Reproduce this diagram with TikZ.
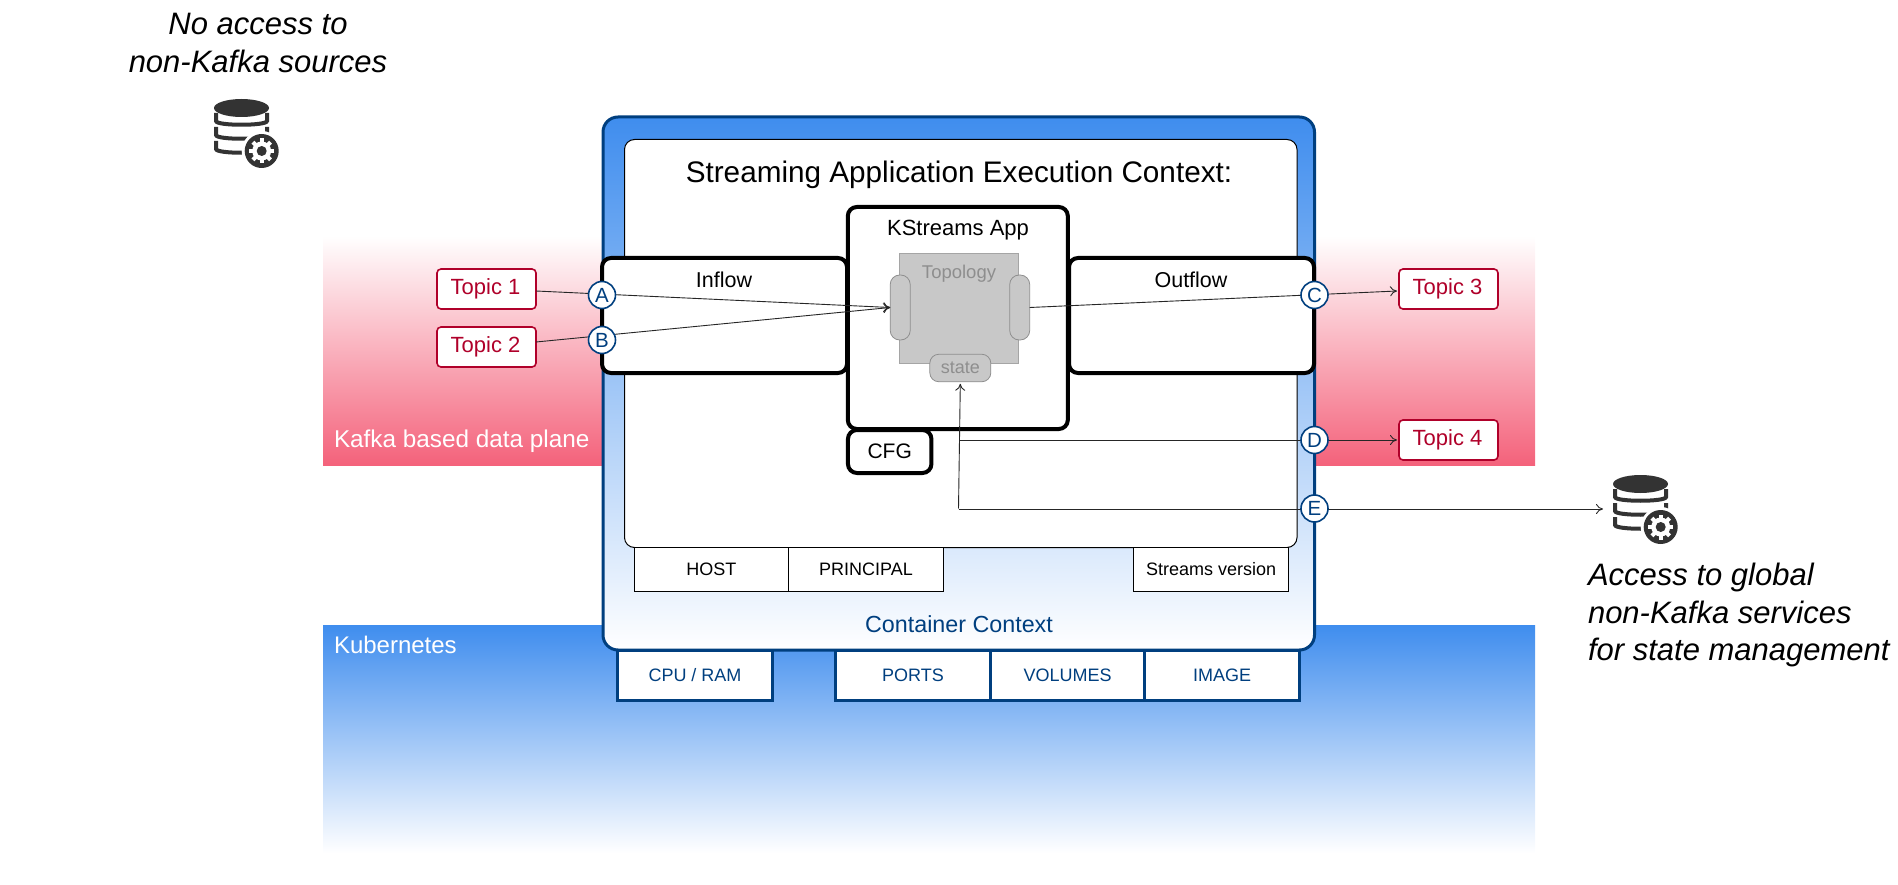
\documentclass[tikz,border=0pt]{standalone}
\usepackage{fontspec}
\setmainfont{Liberation Sans}
\usetikzlibrary{arrows.meta}
\definecolor{navy}{HTML}{003F7F}
\definecolor{skyb}{HTML}{3F8DEE}
\definecolor{kred}{HTML}{B0002A}
\definecolor{kpink}{HTML}{F4627B}
\definecolor{dbdark}{HTML}{333333}
\definecolor{greyf}{HTML}{C8C8C8}
\definecolor{greyl}{HTML}{8E8E8E}
\newcommand{\fs}[2]{\fontsize{#1}{#2}\selectfont}
\tikzset{
  every node/.style={inner sep=0pt,outer sep=0pt,align=center},
  band/.style={minimum width=1212pt,minimum height=#1},
  heavy/.style={draw=black,line width=4pt,fill=white,rounded corners=9pt},
  thinbox/.style={draw=black,line width=1pt,fill=white,minimum width=#1,minimum height=44pt,font=\fs{18}{20}},
  bluebox/.style={draw=navy,line width=3pt,fill=white,text=navy,minimum width=#1,minimum height=50pt,font=\fs{18}{20}},
  topic/.style={draw=kred,line width=1.6pt,fill=white,text=kred,rounded corners=4pt,minimum width=99pt,minimum height=40pt,font=\fs{22}{24}},
  pill/.style={draw=greyl,line width=.8pt,fill=greyf,rounded corners=9.5pt,minimum width=20pt,minimum height=65pt},
  port/.style={circle,draw=navy,line width=1.6pt,fill=white,text=navy,minimum size=27pt,font=\fs{20.5}{22}},
  conn/.style={draw=black!85,line width=.9pt,-{To[length=7pt,width=10pt]}},
  note/.style={font=\itshape\fs{31}{37.5}},
  pics/dbicon/.style={code={
    \fill[dbdark] (27.5,9) ellipse [x radius=27.5pt,y radius=9pt];
    \foreach \yy in {14,28,42}{
      \draw[dbdark,line width=4pt] (2,\yy) -- (2,\yy+8) .. controls (2,\yy+13) and (53,\yy+13) .. (53,\yy+8) -- (53,\yy);
    }
    \fill[white] (47.7,52) circle [radius=20pt];
    \fill[dbdark] (47.7,52) circle [radius=17pt];
    \foreach \an in {0,45,...,315}{
      \draw[white,line width=4pt] (47.7,52) -- ++(\an:12.5pt);
    }
    \fill[white] (47.7,52) circle [radius=9.5pt];
    \fill[dbdark] (47.7,52) circle [radius=5pt];
  }}
}
\begin{document}
\begin{tikzpicture}[x=1pt,y=-1pt]
\useasboundingbox (0,0) rectangle (1898,885);
% bands
\node[band=229pt,top color=white,bottom color=kpink] (kafka) at (929,350.5) {};
\node[band=228pt,top color=skyb,bottom color=white] (kube) at (929,739) {};
\node[anchor=west,text=white,font=\fs{24.3}{26}] (kafkal) at (334,441.5) {Kafka based data plane};
\node[anchor=west,text=white,font=\fs{24}{26}] (kubel) at (334,645) {Kubernetes};
% resources under the container
\node[bluebox=155.5pt] (cpu) at (695,675) {CPU / RAM};
\node[bluebox=155pt] (ports) at (913,675) {PORTS};
\node[bluebox=154pt] (volumes) at (1067.6,675) {VOLUMES};
\node[bluebox=155pt] (image) at (1222.2,675) {IMAGE};
% container
\node[draw=navy,line width=3pt,rounded corners=15pt,top color=skyb,bottom color=white,minimum width=711.5pt,minimum height=533pt] (container) at (958.75,383.5) {};
\node[draw=black,line width=1pt,fill=white,rounded corners=10pt,minimum width=672.5pt,minimum height=408pt] (exec) at (960.75,343.5) {};
\node[font=\fs{29.7}{32}] (title) at (959,175) {Streaming Application Execution Context:};
\node[text=navy,font=\fs{23.3}{26}] (cctx) at (959,624) {Container Context};
\node[thinbox=154pt] (host) at (711.4,569) {HOST};
\node[thinbox=155pt] (principal) at (866,569) {PRINCIPAL};
\node[thinbox=155pt] (version) at (1211.2,569) {Streams version};
% app boxes
\node[heavy,minimum width=245pt,minimum height=115pt] (inflow) at (724.5,315.5) {};
\node[font=\fs{21.5}{24}] (inflowl) at (724,280) {Inflow};
\node[heavy,minimum width=245pt,minimum height=115pt] (outflow) at (1191.5,315.5) {};
\node[font=\fs{21.5}{24}] (outflowl) at (1191,280) {Outflow};
\node[heavy,minimum width=220pt,minimum height=222pt] (app) at (957.8,318) {};
\node[font=\fs{22}{24}] (appl) at (958,230) {KStreams App};
\node[heavy,font=\fs{21}{24},minimum width=83.5pt,minimum height=43pt] (cfg) at (889.7,451.5) {CFG};
\node[draw=greyl!80,line width=.8pt,fill=greyf,minimum width=119pt,minimum height=110pt] (topo) at (959,308) {};
\node[text=greyl,font=\fs{18.5}{20}] (topol) at (959,274) {Topology};
\node[pill] (lp) at (900.2,307.5) {};
\node[pill] (rp) at (1019.7,307.5) {};
\node[draw=greyl,line width=.8pt,fill=greyf,text=greyl,rounded corners=9pt,minimum width=61pt,minimum height=27.5pt,font=\fs{18}{20}] (state) at (960.3,368) {\raisebox{-1.5pt}{state}};
% topics
\node[topic] (t1) at (486.5,289) {\hspace*{-2pt}\raisebox{-2pt}{Topic 1}};
\node[topic] (t2) at (486.5,347) {\hspace*{-2pt}\raisebox{-2pt}{Topic 2}};
\node[topic] (t3) at (1448.5,289) {\hspace*{-2pt}\raisebox{-2pt}{Topic 3}};
\node[topic] (t4) at (1448.5,440) {\hspace*{-2pt}\raisebox{-2pt}{Topic 4}};
% icons
\pic at (214,99) {dbicon};
\pic at (1613,475) {dbicon};
\node[note] (noacc) at (258,43) {No access to\\non-Kafka sources};
\node[note,align=left,anchor=north west] (acc) at (1588,563.5) {Access to global\\non-Kafka services\\for state management};
% free ends
\coordinate (dstart) at (959,440);
\coordinate (ecorner) at (958.5,508.5);
\coordinate (dbtarget) at (1603,509);
% connectors
\draw[conn] ([yshift=-2pt]t1.east) -- (lp.west);
\draw[conn] ([yshift=5pt]t2.east) -- (lp.west);
\draw[conn] (rp.east) -- ([xshift=-2pt,yshift=-2pt]t3.west);
\draw[conn] (dstart) -- ([xshift=-2pt]t4.west);
\draw[conn] (dbtarget -| ecorner) -- (dbtarget);
\draw[conn] (ecorner) -- ([yshift=-2pt]state.south);
% ports
\node[port] (a) at (602,295) {\raisebox{-1pt}{A}};
\node[port] (b) at (602,340) {\raisebox{-1pt}{B}};
\node[port] (c) at (1314.5,295) {\raisebox{-1pt}{C}};
\node[port] (d) at (1314.5,440) {\raisebox{-1pt}{D}};
\node[port] (e) at (1314.5,508.5) {\raisebox{-1pt}{E}};
\end{tikzpicture}
\end{document}
